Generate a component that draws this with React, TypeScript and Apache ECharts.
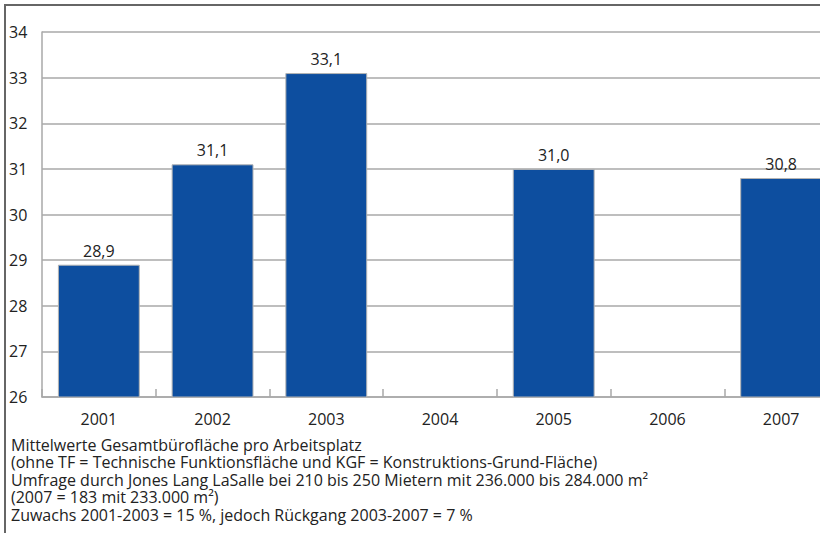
import React, { useEffect, useRef } from "react";
import * as echarts from "echarts";

const years = ["2001", "2002", "2003", "2004", "2005", "2006", "2007"];
const values: (number | null)[] = [28.9, 31.1, 33.1, null, 31.0, null, 30.8];
const yMin = 26;
const yMax = 34;
const notes = [
  "Mittelwerte Gesamtbürofläche pro Arbeitsplatz",
  "(ohne TF = Technische Funktionsfläche und KGF = Konstruktions-Grund-Fläche)",
  "Umfrage durch Jones Lang LaSalle bei 210 bis 250 Mietern mit 236.000 bis 284.000 m²",
  "(2007 = 183 mit 233.000 m²)",
  "Zuwachs 2001-2003 = 15 %, jedoch Rückgang 2003-2007 = 7 %",
];

const FONT = "'Open Sans', 'Noto Sans', sans-serif";
const W = 838;
const H = 533;

export default function App() {
  const ref = useRef<HTMLDivElement>(null);
  useEffect(() => {
    document.body.style.margin = "0";
    document.body.style.overflow = "hidden";
    document.documentElement.style.overflow = "hidden";
    const chart = echarts.init(ref.current!, null, { renderer: "svg" });
    chart.setOption({
      animation: false,
      backgroundColor: "#ffffff",
      grid: { left: 42, top: 32, bottom: 136, right: 0, containLabel: false },
      xAxis: {
        type: "category",
        data: years,
        boundaryGap: true,
        axisLine: { show: true, lineStyle: { color: "#a8a8a8", width: 1.5 } },
        axisTick: { show: true, inside: true, length: 8, interval: 0, lineStyle: { color: "#a8a8a8", width: 1.5 } },
        axisLabel: { color: "#222", fontSize: 16, fontFamily: FONT, margin: 14, interval: 0 },
        splitLine: { show: false },
      },
      yAxis: {
        type: "value",
        min: yMin,
        max: yMax,
        interval: 1,
        axisLine: { show: true, lineStyle: { color: "#a8a8a8", width: 1.5 } },
        axisTick: { show: false },
        axisLabel: { color: "#222", fontSize: 16, fontFamily: FONT, align: "left", margin: 33 },
        splitLine: { show: true, lineStyle: { color: "#a8a8a8", width: 1.5 } },
      },
      series: [
        {
          type: "bar",
          data: values,
          barCategoryGap: "28%",
          itemStyle: { color: "#0d4e9f", borderColor: "#b4b4b4", borderWidth: 1 },
          label: {
            show: true,
            position: "top",
            distance: 6,
            color: "#222",
            fontSize: 16,
            fontFamily: FONT,
            formatter: (p: any) => (p.value == null ? "" : Number(p.value).toFixed(1).replace(".", ",")),
          },
        },
      ],
      graphic: [
        { type: "line", shape: { x1: 4, y1: 5, x2: W, y2: 5 }, style: { stroke: "#666", lineWidth: 2 } },
        { type: "line", shape: { x1: 5, y1: 4, x2: 5, y2: H }, style: { stroke: "#666", lineWidth: 2 } },
        ...notes.map((t, i) => ({
          type: "text",
          left: 11,
          top: 436 + i * 17.5,
          style: {
            text: t,
            fill: "#222",
            fontSize: 16,
            lineHeight: 17,
            fontFamily: FONT,
          },
        })),
      ],
    });
    return () => chart.dispose();
  }, []);
  return <div ref={ref} style={{ position: "fixed", left: 0, top: 0, width: W, height: H }} />;
}
